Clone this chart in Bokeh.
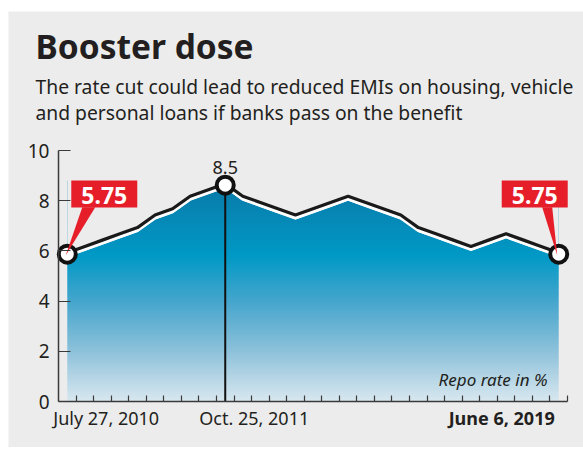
import numpy as np
from bokeh.plotting import figure
from bokeh.models import FixedTicker, Label, Range1d
from bokeh.embed import file_html
from bokeh.resources import INLINE

# ---------------- data ----------------
repo_rate = [5.75, 6.00, 6.25, 6.50, 6.75, 7.25, 7.50, 8.00, 8.25, 8.50,
             8.00, 7.75, 7.50, 7.25, 7.50, 7.75, 8.00, 7.75, 7.50, 7.25,
             6.75, 6.50, 6.25, 6.00, 6.25, 6.50, 6.25, 6.00, 5.75]
step = list(range(len(repo_rate)))
date_label_idx = [0, 9, 28]
date_labels = ["July 27, 2010", "Oct. 25, 2011", "June 6, 2019"]
y_ticks = [0, 2, 4, 6, 8, 10]
callout_idx = [0, 28]
peak_idx = 9

title_text = "Booster dose"
subtitle_1 = "The rate cut could lead to reduced EMIs on housing, vehicle"
subtitle_2 = "and personal loans if banks pass on the benefit"
unit_text = "Repo rate in %"

# ---------------- style ----------------
BG = "#ececec"
TXT = "#231f20"
RED = "#e61e2a"
AX = "#3a3a3a"
FONT = "Noto Sans"

W, H = 575, 436
# axis box inside the figure (pixels from figure's left / top)
AL, AR, AT, AB = 50, 559, 139, 390
X0, X1 = -0.5, len(repo_rate) - 0.5
Y0, Y1 = 0, 10
PXU = (AR - AL) / (X1 - X0)
PYU = (AB - AT) / (Y1 - Y0)
xr = Range1d(X0 - AL / PXU, X1 + (W - AR) / PXU)
yr = Range1d(Y0 - (H - AB) / PYU, Y1 + AT / PYU)

p = figure(width=W, height=H, x_range=xr, y_range=yr,
           output_backend="svg", toolbar_location=None,
           min_border_left=0, min_border_right=0, min_border_top=0, min_border_bottom=0,
           margin=(11, 0, 0, 8))
p.title.visible = False
p.background_fill_color = BG
p.border_fill_color = BG
p.outline_line_color = None
p.grid.visible = False

# gradient fill (image) + background cover above the line
stops_y = [0.0, 2.0, 4.0, 5.8, 7.2, 8.8]
stops_c = [(0xd9, 0xe8, 0xf0), (0x8e, 0xc2, 0xdb), (0x45, 0xa6, 0xcd),
           (0x00, 0x99, 0xc6), (0x06, 0x8a, 0xb8), (0x0a, 0x78, 0xa6)]
top_img = max(repo_rate) + 0.3
N = 300
ys = (np.arange(N) + 0.5) / N * top_img
img = np.empty((N, 2), dtype=np.uint32)
view = img.view(dtype=np.uint8).reshape((N, 2, 4))
for ch in range(3):
    col = np.interp(ys, stops_y, [c[ch] for c in stops_c])
    view[:, :, ch] = col.astype(np.uint8)[:, None]
view[:, :, 3] = 255
p.image_rgba(image=[img], x=step[0], y=0, dw=step[-1] - step[0], dh=top_img)
p.varea(x=step, y1=repo_rate, y2=[Y1] * len(step), fill_color=BG)

# outlined line (white band with black rim above)
r = np.array(repo_rate)
p.line(step, r + 1.5 / PYU, line_color="white", line_width=3)
p.line(step, r + 4.5 / PYU, line_color="#1a1a1a", line_width=3.2)

# vertical line at peak
p.segment(x0=[step[peak_idx]], y0=[0], x1=[step[peak_idx]], y1=[repo_rate[peak_idx]],
          line_color="#111111", line_width=2)

# markers
mk = callout_idx[:1] + [peak_idx] + callout_idx[1:]
p.scatter([step[i] for i in mk], [repo_rate[i] + 3 / PYU for i in mk], size=17,
          fill_color="white", line_color="#111111", line_width=4)

# callouts
box_dx = {0: (4, 70), 28: (-57, 9)}
ptr_dx = {0: (15, 28), 28: (-16.5, -6.5)}
for i in callout_idx:
    x, y = step[i], repo_rate[i]
    l, rr = box_dx[i]
    p.quad(left=[x + l / PXU], right=[x + rr / PXU], bottom=[y + 49.7 / PYU], top=[y + 76.7 / PYU],
           fill_color=RED, line_color=None)
    a, b = ptr_dx[i]
    p.patch([x + a / PXU, x + b / PXU, x - 1.5 / PXU], [y + 50 / PYU, y + 50 / PYU, y + 2 / PYU],
            fill_color=RED, line_color=None)
    p.add_layout(Label(x=x + (l + rr) / 2 / PXU, y=y, y_offset=61.5, text=f"{y:.2f}",
                       text_font=FONT, text_font_style="bold", text_font_size="23px",
                       text_color="white", text_align="center", text_baseline="alphabetic"))

# peak label
p.add_layout(Label(x=step[peak_idx], y=repo_rate[peak_idx], y_offset=20.5,
                   text=f"{repo_rate[peak_idx]:g}", text_font=FONT, text_font_size="18px",
                   text_color=TXT, text_align="center", text_baseline="alphabetic"))

# unit note
p.add_layout(Label(x=X1, y=0, x_offset=-20, y_offset=22, text=unit_text, text_font=FONT,
                   text_font_style="italic", text_font_size="17px", text_color=TXT,
                   text_align="right", text_baseline="alphabetic"))

# title / subtitle
p.add_layout(Label(x=X0, y=Y1, x_offset=-23, y_offset=104.5, text=title_text, text_font=FONT,
                   text_font_style="bold", text_font_size="33.5px", text_color=TXT,
                   text_align="left", text_baseline="alphabetic"))
p.add_layout(Label(x=X0, y=Y1, x_offset=-23, y_offset=64, text=subtitle_1, text_font=FONT,
                   text_font_size="19.3px", text_color=TXT, text_align="left", text_baseline="alphabetic"))
p.add_layout(Label(x=X0, y=Y1, x_offset=-23, y_offset=38, text=subtitle_2, text_font=FONT,
                   text_font_size="19.3px", text_color=TXT, text_align="left", text_baseline="alphabetic"))

# x date labels
x_off = {0: (-14, "left", "normal"), 9: (-26, "left", "normal"), 28: (-4, "right", "bold")}
for i, t in zip(date_label_idx, date_labels):
    dx, al, st = x_off[i]
    p.add_layout(Label(x=step[i], y=0, x_offset=dx, y_offset=-16.5, text=t, text_font=FONT,
                       text_font_size="18px", text_font_style=st, text_color=TXT,
                       text_align=al, text_baseline="alphabetic"))

# axes (drawn at fixed data locations inside the frame)
xa = p.xaxis[0]
xa.fixed_location = Y0
xa.bounds = (X0, X1)
xa.ticker = FixedTicker(ticks=[], minor_ticks=[s + 0.5 for s in step])
xa.axis_line_color = AX
xa.axis_line_width = 1.5
xa.minor_tick_in = 6
xa.minor_tick_out = 0
xa.minor_tick_line_color = AX
xa.minor_tick_line_width = 1.2
xa.major_tick_line_color = None
xa.major_label_text_font_size = "0px"

ya = p.yaxis[0]
ya.fixed_location = X0
ya.bounds = (Y0, Y1)
ya.ticker = FixedTicker(ticks=y_ticks, minor_ticks=[])
ya.axis_line_color = AX
ya.axis_line_width = 1.5
ya.major_tick_in = 12
ya.major_tick_out = 0
ya.major_tick_line_color = AX
ya.major_tick_line_width = 1.2
ya.minor_tick_line_color = None
ya.major_label_standoff = 9
ya.major_label_text_font = FONT
ya.major_label_text_font_size = "19px"
ya.major_label_text_color = TXT

open("out.html", "w").write(file_html(p, INLINE))
